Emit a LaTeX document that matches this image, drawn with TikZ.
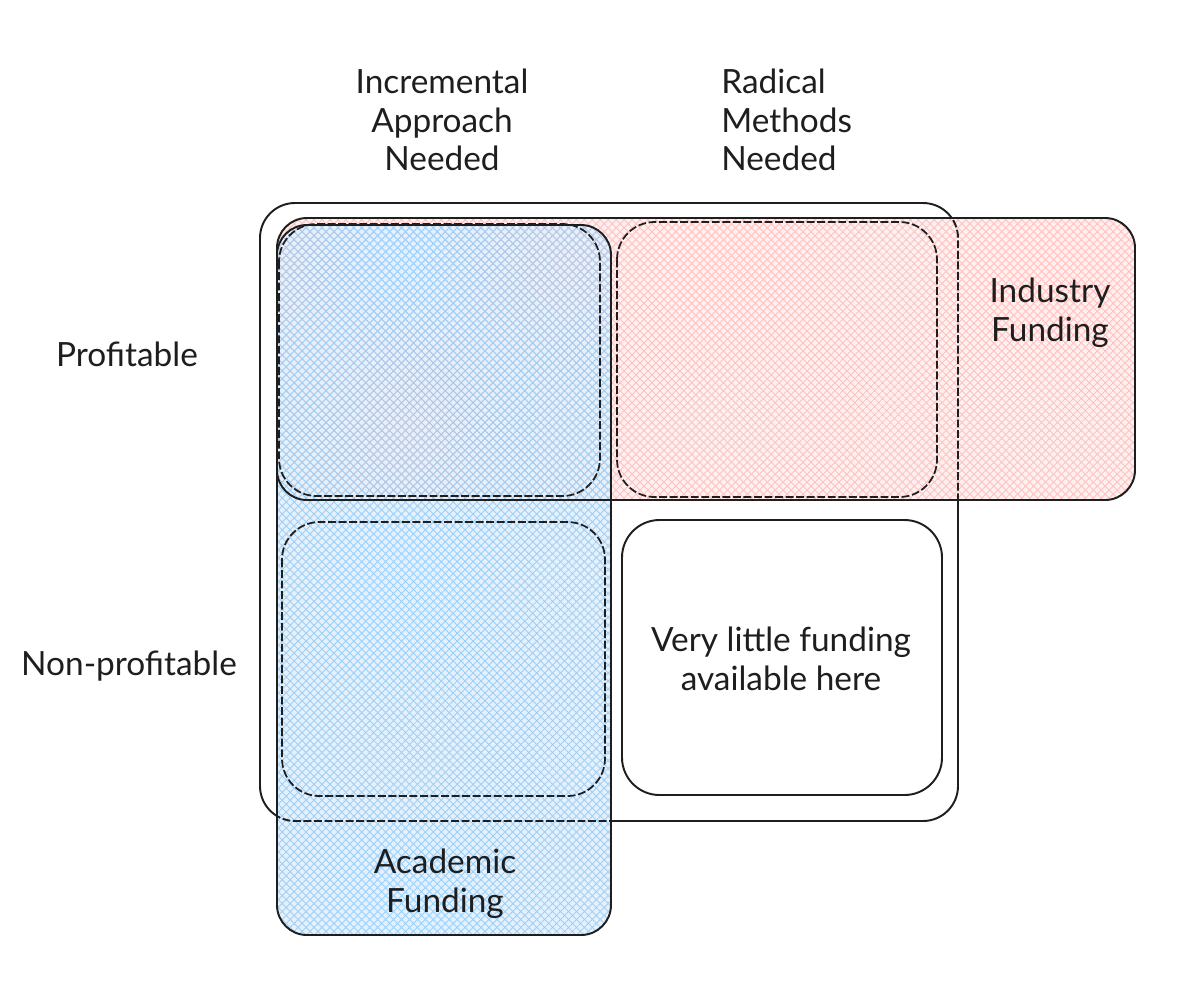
\documentclass[tikz,border=0pt]{standalone}
\usepackage{fontspec}
\setmainfont{Lato}
\usepackage{tikz}
\usetikzlibrary{patterns.meta}
\definecolor{inkgray}{RGB}{30, 30, 30}
\definecolor{acadblue}{HTML}{9CCFF7}
\definecolor{acadbg}{RGB}{228, 241, 253}
\definecolor{indpink}{HTML}{FFC0C0}
\definecolor{indbg}{RGB}{255, 240, 240}

\begin{document}
\begin{tikzpicture}[x=0.02cm, y=-0.02cm,
          lbl/.style={font=\fontsize{19}{22}\selectfont,
                      align=center, text=inkgray, inner sep=0pt},
          edge/.style={draw=inkgray, line width=1.1pt},
          quad/.style={draw=inkgray, line width=1pt,
                       dash pattern=on 4.5pt off 1.5pt,
                       rounded corners=0.75cm},
          hatchA/.style={pattern={Lines[angle=45, distance=3.2pt,
                         line width=0.5pt]}},
          hatchB/.style={pattern={Lines[angle=-45, distance=3.2pt,
                         line width=0.5pt]}},
      ]
      \useasboundingbox (0,0) rectangle (1200,995);
      % outer frame
      \draw[edge, rounded corners=0.7cm] (260,203) rectangle (958,821);
      % funding areas
      \fill[indbg, rounded corners=0.6cm] (277,218) rectangle (1135,500);
      \fill[acadbg, rounded corners=0.6cm] (277,225) rectangle (611,935);
      \fill[hatchA, pattern color=indpink, rounded corners=0.6cm]
          (277,218) rectangle (1135,500);
      \fill[hatchB, pattern color=indpink, rounded corners=0.6cm]
          (277,218) rectangle (1135,500);
      \fill[hatchA, pattern color=acadblue, rounded corners=0.6cm]
          (277,225) rectangle (611,935);
      \fill[hatchB, pattern color=acadblue, rounded corners=0.6cm]
          (277,225) rectangle (611,935);
      \draw[edge, rounded corners=0.6cm] (277,218) rectangle (1135,500);
      \draw[edge, rounded corners=0.6cm] (277,225) rectangle (611,935);
      \begin{scope}
      \clip[rounded corners=0.6cm] (277,218) rectangle (1135,500)
          (277,225) rectangle (611,935);
      \draw[quad, line width=1.1pt, rounded corners=0.7cm]
          (260,203) rectangle (958,821);
      \end{scope}
      % quadrants
      \draw[quad] (279,224) rectangle (600,496);
      \draw[quad] (617,222) rectangle (937,497);
      \draw[quad] (282,522) rectangle (605,796);
      \draw[edge, fill=white, rounded corners=0.75cm]
          (622,520) rectangle (942,795);
      % labels
      \node[lbl] (incr) at (442,120) {Incremental\\Approach\\Needed};
      \node[lbl, align=left, anchor=west] (radi) at (721,120)
          {Radical\\Methods\\Needed};
      \node[lbl] (prof) at (127,354) {Profitable};
      \node[lbl] (nonp) at (129,666) {Non-profitable};
      \node[lbl] (indu) at (1050,313) {Industry\\Funding};
      \node[lbl] (acad) at (445,884) {Academic\\Funding};
      \node[lbl] (none) at (781,659)
          {Very little funding\\available here};
      \end{tikzpicture}
\end{document}
